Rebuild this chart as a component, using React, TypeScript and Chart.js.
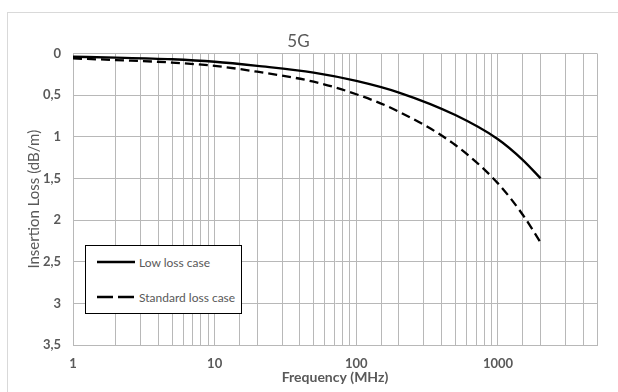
import React, { useEffect, useRef } from "react";
import { Chart, registerables } from "chart.js";

Chart.register(...registerables);

const frequencies = [1, 2, 5, 10, 20, 50, 100, 200, 500, 1000, 1500, 2000];
const lowLoss = [0.04, 0.05, 0.07, 0.1, 0.15, 0.23, 0.33, 0.47, 0.74, 1.03, 1.28, 1.5];
const standardLoss = [0.06, 0.08, 0.11, 0.15, 0.22, 0.34, 0.49, 0.7, 1.1, 1.56, 1.94, 2.27];
const seriesNames = ["Low loss case", "Standard loss case"];
const chartTitle = "5G";
const xTitle = "Frequency (MHz)";
const yTitle = "Insertion Loss (dB/m)";

const GRID = "#b8b8b8";
const TEXT = "#595959";
const FONT = "Lato, 'Liberation Sans', sans-serif";

export default function App() {
  const ref = useRef<HTMLCanvasElement | null>(null);

  useEffect(() => {
    if (!ref.current) return;
    const chart = new Chart(ref.current, {
      type: "line",
      data: {
        datasets: [
          {
            label: seriesNames[0],
            data: frequencies.map((f, i) => ({ x: f, y: lowLoss[i] })),
            borderColor: "#000",
            borderWidth: 2.3,
            pointRadius: 0,
            cubicInterpolationMode: "monotone",
            fill: false,
          },
          {
            label: seriesNames[1],
            data: frequencies.map((f, i) => ({ x: f, y: standardLoss[i] })),
            borderColor: "#000",
            borderWidth: 2.3,
            borderDash: [9, 5],
            pointRadius: 0,
            cubicInterpolationMode: "monotone",
            fill: false,
          },
        ],
      },
      options: {
        responsive: false,
        animation: false,
        layout: { padding: { left: 0, right: 21, top: 0, bottom: 0 } },
        plugins: {
          legend: { display: false },
          tooltip: { enabled: false },
          title: {
            display: true,
            text: chartTitle,
            color: TEXT,
            font: { family: FONT, size: 17, weight: "normal" },
            padding: { top: 31, bottom: 2 },
          },
        },
        scales: {
          x: {
            type: "logarithmic",
            min: 1,
            max: 5000,
            grid: { color: GRID, lineWidth: 1, drawTicks: false },
            border: { display: true, color: GRID },
            ticks: {
              autoSkip: false,
              maxRotation: 0,
              padding: 11,
              color: TEXT,
              font: { family: FONT, size: 13, weight: "bold" },
              callback: (v: any) => {
                const l = Math.log10(Number(v));
                return Math.abs(l - Math.round(l)) < 1e-9 ? String(Math.round(Number(v))) : "";
              },
            },
            title: {
              display: true,
              text: xTitle,
              color: TEXT,
              font: { family: FONT, size: 14, weight: "bold" },
              padding: { top: 0, bottom: 6 },
            },
            afterFit: (s: any) => {
              s.height = 47;
            },
          },
          y: {
            type: "linear",
            min: 0,
            max: 3.5,
            reverse: true,
            grid: { color: GRID, lineWidth: 1, drawTicks: false },
            border: { display: true, color: GRID },
            ticks: {
              stepSize: 0.5,
              padding: 12,
              color: TEXT,
              font: { family: FONT, size: 13, weight: "bold" },
              callback: (v: any) => String(Number(v)).replace(".", ","),
            },
            title: {
              display: true,
              text: yTitle,
              color: TEXT,
              font: { family: FONT, size: 15, weight: "normal" },
              padding: { top: 25, bottom: 0 },
            },
            afterFit: (s: any) => {
              s.width = 73;
            },
          },
        },
      },
    });
    return () => chart.destroy();
  }, []);

  return (
    <div style={{ position: "absolute", left: 0, top: 0, width: 618, height: 392, overflow: "hidden", background: "#fff" }}>
      <div
        style={{
          position: "absolute",
          left: 7,
          top: 12,
          width: 700,
          height: 500,
          borderLeft: "1px solid #d9d9d9",
          borderTop: "1px solid #d9d9d9",
        }}
      />
      <canvas ref={ref} width={618} height={392} style={{ position: "absolute", left: 0, top: 0, width: 618, height: 392 }} />
      <div
        style={{
          position: "absolute",
          left: 85,
          top: 245,
          width: 155,
          height: 67,
          border: "1px solid #000",
          background: "#fff",
          fontFamily: FONT,
          fontSize: 12,
          color: TEXT,
        }}
      >
        {seriesNames.map((name, i) => (
          <div
            key={name}
            style={{ position: "absolute", left: 11, top: i === 0 ? 9 : 44, height: 14, display: "flex", alignItems: "center", whiteSpace: "nowrap" }}
          >
            <svg width={38} height={6} style={{ marginRight: 4 }}>
              <line x1={0} y1={3} x2={38} y2={3} stroke="#000" strokeWidth={2.3} strokeDasharray={i === 0 ? undefined : "16 5"} />
            </svg>
            <span>{name}</span>
          </div>
        ))}
      </div>
    </div>
  );
}
